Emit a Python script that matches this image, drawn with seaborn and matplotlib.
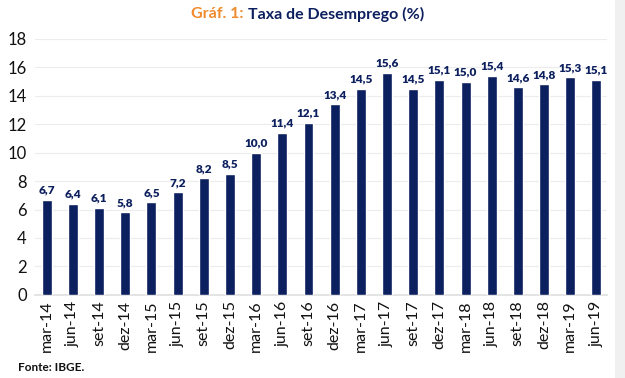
import matplotlib
matplotlib.use("Agg")
import matplotlib.pyplot as plt
import pandas as pd
import seaborn as sns
from matplotlib.patches import Rectangle

PERIODS = [
    "mar-14", "jun-14", "set-14", "dez-14",
    "mar-15", "jun-15", "set-15", "dez-15",
    "mar-16", "jun-16", "set-16", "dez-16",
    "mar-17", "jun-17", "set-17", "dez-17",
    "mar-18", "jun-18", "set-18", "dez-18",
    "mar-19", "jun-19",
]
RATES = [
    6.7, 6.4, 6.1, 5.8,
    6.5, 7.2, 8.2, 8.5,
    10.0, 11.4, 12.1, 13.4,
    14.5, 15.6, 14.5, 15.1,
    15.0, 15.4, 14.6, 14.8,
    15.3, 15.1,
]
Y_TICKS = [0, 2, 4, 6, 8, 10, 12, 14, 16, 18]

NAVY = "#0c1f5e"
ORANGE = "#f08a2c"

sns.set_theme(style="white")
plt.rcParams["font.family"] = ["Lato", "DejaVu Sans"]

df = pd.DataFrame({"periodo": PERIODS, "taxa": RATES})

fig = plt.figure(figsize=(6.25, 3.78), dpi=100)
ax = fig.add_axes([0.056, 0.22, 0.915, 0.677])

sns.barplot(data=df, x="periodo", y="taxa", color=NAVY, width=0.38,
            saturation=1, ax=ax, zorder=3)

ax.set_ylim(0, 18)
ax.set_yticks(Y_TICKS)
ax.set_xlim(-0.45, len(PERIODS) - 0.6)
ax.grid(axis="y", color="#ececec", linewidth=0.8, zorder=0)
ax.set_xlabel("")
ax.set_ylabel("")
for side in ["top", "right", "left"]:
    ax.spines[side].set_visible(False)
ax.spines["bottom"].set_color("#e0e0e0")
ax.tick_params(axis="y", labelsize=12, length=0, pad=6, colors="#111111")
ax.tick_params(axis="x", labelsize=11.5, length=0, pad=4, colors="#111111",
               labelrotation=90)

for i, v in enumerate(RATES):
    ax.text(i, v + 0.3, f"{v:.1f}".replace(".", ","), ha="center", va="bottom",
            fontsize=8.5, fontweight="heavy", color=NAVY)

fig.text(0.396, 0.962, "Gráf. 1: ", ha="right", va="center", fontsize=11.5,
         fontweight="bold", color=ORANGE)
fig.text(0.396, 0.962, "Taxa de Desemprego (%)", ha="left", va="center",
         fontsize=11.5, fontweight="bold", color=NAVY)
fig.text(0.029, 0.027, "Fonte: IBGE.", ha="left", va="center", fontsize=8.5,
         fontweight="bold", color="#111111")

fig.patches.append(Rectangle((0.984, 0), 0.016, 1, transform=fig.transFigure,
                             facecolor="#f0f0f0", edgecolor="none", zorder=-1))

fig.savefig("out.png", dpi=100)
